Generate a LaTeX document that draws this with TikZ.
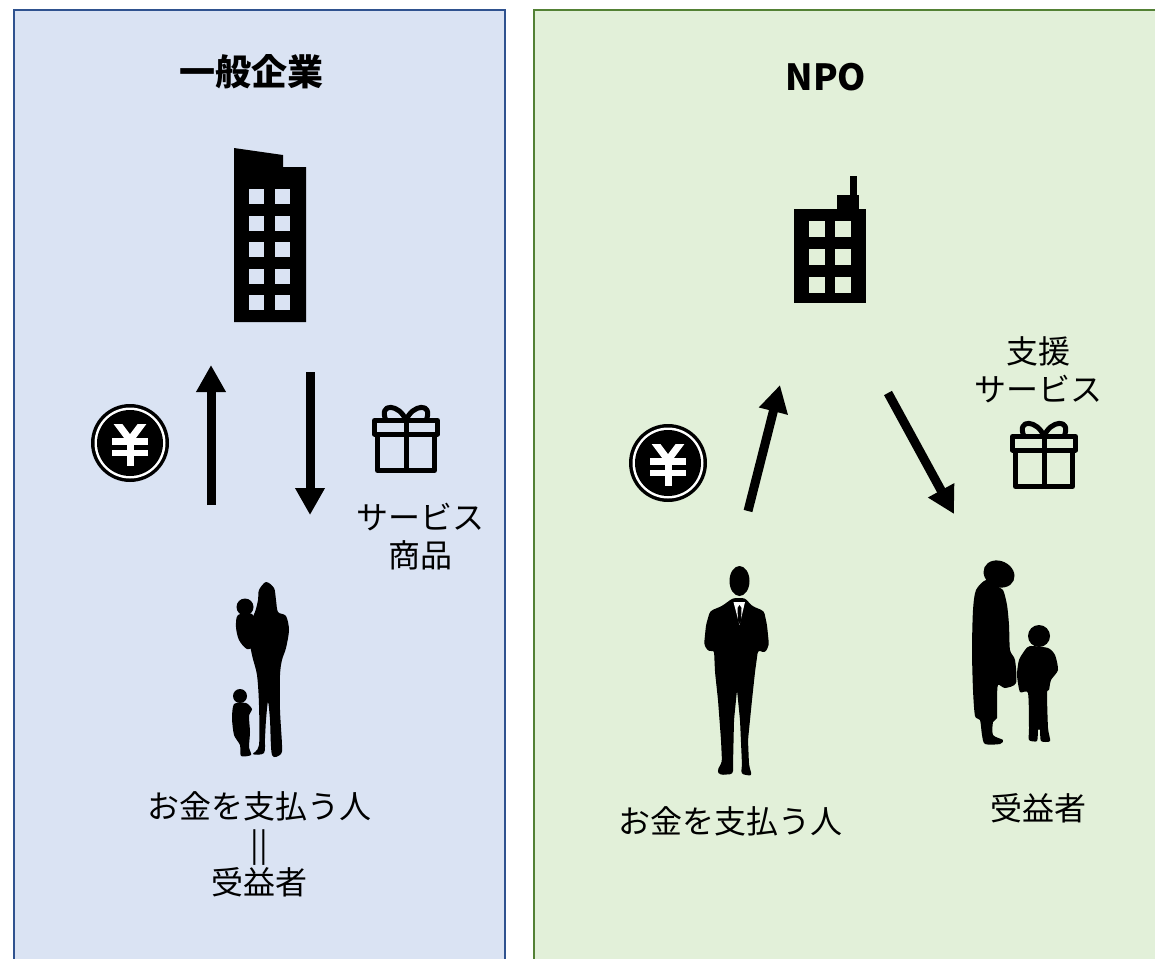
\documentclass[tikz,border=0pt]{standalone}
\usepackage{fontspec}
\setmainfont{Noto Sans CJK JP}
\usetikzlibrary{arrows.meta}

\definecolor{bizfill}{HTML}{DAE3F3}
\definecolor{bizline}{HTML}{2F528F}
\definecolor{npofill}{HTML}{E2F0D9}
\definecolor{npoline}{HTML}{538135}

\tikzset{
  yen/.pic={
    \fill (0,0) circle[radius=39];
    \fill[white] (0,0) circle[radius=35.5];
    \fill (0,0) circle[radius=33];
    \begin{scope}[white, line width=7]
      \clip (-20,-19) rectangle (20,23);
      \draw (-15,-23) -- (0,-3) -- (15,-23);
      \draw (0,-3) -- (0,23);
    \end{scope}
    \draw[white, line width=6.5] (-18,-1.5) -- (18,-1.5) (-18,10) -- (18,10);
  },
  gift/.pic={
    \begin{scope}[line width=5, line join=round]
      \draw (-31.5,-19.5) rectangle (31.5,-6);
      \draw (-28.5,-6) -- (-28.5,30.5) -- (28.5,30.5) -- (28.5,-6);
      \draw (0,-19.5) -- (0,30.5);
      \draw (0,-19.5) .. controls (-6,-36) and (-28,-38) .. (-20,-19.5);
      \draw (0,-19.5) .. controls (6,-36) and (28,-38) .. (20,-19.5);
    \end{scope}
  }
}

\begin{document}
\begin{tikzpicture}[x=1pt,y=-1pt,
ttl/.style={font=\fontsize{36}{40}\selectfont\bfseries},
lbl/.style={font=\fontsize{32}{38}\selectfont,align=center},
arr/.style={line width=9,-{Triangle[length=27pt,width=28pt]}}]
\useasboundingbox (0,0) rectangle (1155,958);
\clip (0,0) rectangle (1155,958);
\fill[white] (0,0) rectangle (1155,958);

% panels
\draw[fill=bizfill,draw=bizline,line width=2.5] (14,10) rectangle (505,980);
\draw[fill=npofill,draw=npoline,line width=2.5] (534,10) rectangle (1180,980);

\node[ttl] (bizT) at (251,72) {一般企業};
\node[ttl] (npoT) at (826,77) {NPO};

% company building
\fill (234,148) -- (283,155) -- (283,167) -- (306,167) -- (306,322) -- (234,322) -- cycle;
\foreach \y in {189,215.5,242,268.5,295}
  \foreach \x in {249,275}
    \fill[bizfill] (\x,\y) rectangle ++(15,15);

% npo building
\fill (794,209) rectangle (866,303);
\fill (837,195) rectangle (859,210);
\fill (850,176) rectangle (857,196);
\foreach \y in {221,249,277}
  \foreach \x in {809,835}
    \fill[npofill] (\x,\y) rectangle ++(16,16);

\pic at (130,443) {yen};
\pic at (668,463) {yen};
\pic at (406,440) {gift};
\pic at (1044,456) {gift};

\coordinate (bizUp1) at (211,505);
\coordinate (bizUp2) at (211,365);
\coordinate (bizDn1) at (310,372);
\coordinate (bizDn2) at (310,515);
\draw[arr] (bizUp1) -- (bizUp2);
\draw[arr] (bizDn1) -- (bizDn2);
\coordinate (npoUp1) at (748,511);
\coordinate (npoUp2) at (780,385);
\coordinate (npoDn1) at (888,393);
\coordinate (npoDn2) at (954,514);
\draw[arr] (npoUp1) -- (npoUp2);
\draw[arr] (npoDn1) -- (npoDn2);

% mother with baby and toddler
\fill plot[smooth cycle,tension=0.5] coordinates {(266,582) (274,588) (276,600) (278,612)
  (286,616) (289,630) (286,648) (282,660) (280,675) (280,710) (282,745) (281,754)
  (272,755) (270,720) (268,702) (266,720) (265,738) (264,753) (253,754) (259,745)
  (259,705) (257,675) (252,655) (248,630) (255,612) (258,600) (259,590)};
\fill (245,607) circle[radius=8.5];
\fill plot[smooth cycle,tension=0.5] coordinates {(238,615) (252,614) (257,628)
  (255,645) (247,649) (239,640) (236,627)};
\fill (240,696) circle[radius=7];
\fill plot[smooth cycle,tension=0.4] coordinates {(234,704) (246,703) (252,709)
  (249,716) (250,732) (249,747) (251,755) (241,756) (240,745) (234,735) (232,718)};

% man in suit
\fill (739.5,581) ellipse[x radius=10,y radius=15];
\fill[rounded corners=3] (733,598) -- (722,606) -- (710,611) -- (706,625) -- (704,645)
  -- (709,652) -- (714,650) -- (715,672) -- (718,700) -- (721,740) -- (722,762)
  -- (717,771) -- (720,775) -- (733,774) -- (733,765) -- (734,720) -- (737,690)
  -- (740,720) -- (742,765) -- (741,774) -- (752,776) -- (749,765) -- (748,740)
  -- (752,700) -- (755,672) -- (758,650) -- (765,653) -- (769,645) -- (767,625)
  -- (764,611) -- (752,606) -- (745,598) -- cycle;
\fill[white] (733.5,602) -- (745,602) -- (739.5,625) -- cycle;
\fill (739.5,605) -- (741.5,608) -- (741,621) -- (739.5,624) -- (738,621) -- (737.5,608) -- cycle;

% mother and child
\fill[rotate around={-25:(999,574)}] (999,574) ellipse[x radius=16,y radius=13];
\fill plot[smooth cycle,tension=0.45] coordinates {(986,580) (996,586) (1003,590)
  (1007,605) (1009,625) (1010,650) (1015,660) (1016,683) (1005,688) (998,685)
  (997,700) (997,718) (993,722) (993,735) (1003,740) (1000,744) (985,744) (982,735)
  (980,720) (975,716) (973,690) (972,650) (973,610) (976,590)};
\fill (1039,636) circle[radius=11];
\fill plot[smooth cycle,tension=0.4] coordinates {(1030,646) (1025,650) (1019,660)
  (1017,675) (1020,692) (1028,693) (1029,728) (1029,740) (1037,741) (1038,730)
  (1040,730) (1041,741) (1050,741) (1048,728) (1047,693) (1049,690) (1051,680)
  (1058,670) (1055,655) (1048,648)};

% labels
\node[lbl] (bizGoods) at (420,537) {サービス\\商品};
\node[lbl] (bizPayer) at (259,844) {お金を支払う人\\||\\受益者};
\node[lbl] (npoSvc) at (1038,370) {支援\\サービス};
\node[lbl] (npoPayer) at (730,821) {お金を支払う人};
\node[lbl] (npoBen) at (1038,808) {受益者};
\end{tikzpicture}
\end{document}
